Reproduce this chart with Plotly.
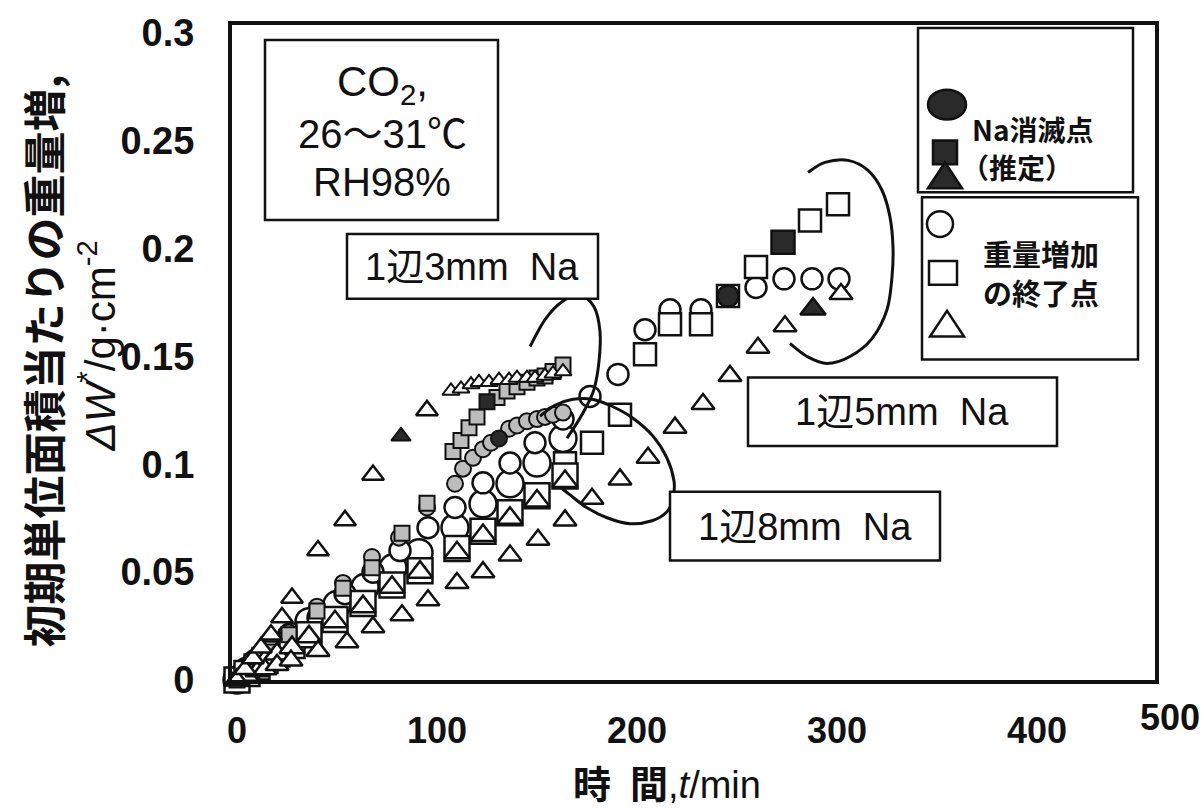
import plotly.graph_objects as go

# ---------------- data: time t (min) vs weight gain per initial area (g/cm^2) ----------------
# 1辺3mm Na
t3_circle = [0, 8, 16, 26, 40, 53, 67.5, 81, 95, 109, 113, 118, 123, 127, 136, 140, 145, 150, 154, 158, 163]
w3_circle = [0, 0.007, 0.013, 0.022, 0.034, 0.045, 0.057, 0.066, 0.080, 0.091, 0.098, 0.103, 0.107, 0.110,
             0.1165, 0.118, 0.120, 0.121, 0.122, 0.123, 0.124]
t3_square = [0, 8, 16, 26, 40, 53, 67.5, 82.5, 95, 108, 112, 116, 120, 130, 135, 140, 145, 150, 154, 158, 163]
w3_square = [0, 0.006, 0.013, 0.021, 0.032, 0.0425, 0.052, 0.068, 0.082, 0.106, 0.111, 0.117, 0.122,
             0.131, 0.134, 0.136, 0.138, 0.140, 0.141, 0.143, 0.146]
t3_tri_early = [0, 4, 8, 12, 17, 22.5, 27.5, 40.5, 54, 68, 95]
w3_tri_early = [0, 0.005, 0.010, 0.015, 0.021, 0.029, 0.038, 0.060, 0.074, 0.095, 0.125]
t3_tri_late = [107, 112, 117, 121, 126, 131, 136, 140, 145, 149, 154, 158, 163]
w3_tri_late = [0.134, 0.135, 0.137, 0.138, 0.138, 0.139, 0.139, 0.140, 0.140, 0.140, 0.141, 0.142, 0.143]

# 1辺5mm Na
t5_circle = [0, 7, 14, 27, 40.5, 54, 68, 81.5, 95.5, 109, 123, 136.5, 149, 163, 176.5, 190.5, 204,
             216.5, 232, 259.5, 273.5, 287.5, 301]
w5_circle = [0, 0.005, 0.010, 0.019, 0.029, 0.040, 0.050, 0.060, 0.0706, 0.080, 0.0914, 0.1006, 0.110,
             0.121, 0.1315, 0.1417, 0.1624, 0.1717, 0.1717, 0.182, 0.186, 0.186, 0.186]
t5_square = [0, 164, 177.5, 191.5, 204, 216.5, 232, 245.5, 259.5, 286.5, 300.5]
w5_square = [0, 0.1005, 0.110, 0.123, 0.151, 0.165, 0.165, 0.178, 0.1915, 0.213, 0.2206]
t5_tri = [0, 5, 10, 14, 20, 27, 40.5, 55, 68, 82.5, 95.5, 110, 123, 136.5, 150.5, 164, 177.5, 191.5,
          205.5, 219, 233, 246.5, 260.5, 274, 302]
w5_tri = [0, 0.002, 0.004, 0.005, 0.007, 0.009, 0.0135, 0.0175, 0.0245, 0.030, 0.037, 0.045, 0.050,
          0.0577, 0.065, 0.074, 0.084, 0.093, 0.103, 0.117, 0.128, 0.141, 0.154, 0.164, 0.179]

# 1辺8mm Na
t8_circle = [0, 5, 10, 14, 20, 27, 36, 50, 64, 78, 91, 109, 123, 136.5, 150, 163]
w8_circle = [0, 0.004, 0.008, 0.011, 0.015, 0.020, 0.027, 0.035, 0.043, 0.052, 0.059, 0.0706, 0.0817,
             0.091, 0.1006, 0.112]
t8_square = [0, 5, 10, 14, 20, 27.5, 36, 49, 63, 77.5, 91.5, 110, 123, 136.5, 150, 164]
w8_square = [0, 0.003, 0.006, 0.009, 0.012, 0.016, 0.021, 0.028, 0.0355, 0.044, 0.0507, 0.061, 0.069,
             0.0775, 0.0854, 0.0946]
t8_tri = [0, 5, 10, 14, 20, 27.5, 36, 49, 63, 77.5, 91.5, 110, 123, 136.5, 150, 164]
w8_tri = [0, 0.003, 0.006, 0.009, 0.012, 0.015, 0.020, 0.027, 0.034, 0.043, 0.050, 0.059, 0.067,
          0.075, 0.083, 0.092]

# Na消滅点 (推定): 3mm and 5mm samples
t3_na_circle, w3_na_circle = [131], [0.112]
t3_na_square, w3_na_square = [125], [0.129]
t3_na_tri, w3_na_tri = [82], [0.113]
t5_na_circle, w5_na_circle = [245.5], [0.178]
t5_na_square, w5_na_square = [273], [0.203]
t5_na_tri, w5_na_tri = [288], [0.172]

x_ticks = [0, 100, 200, 300, 400]
y_ticks = [0, 0.05, 0.1, 0.15, 0.2, 0.25, 0.3]
y_tick_text = ["0", "0.05", "0.1", "0.15", "0.2", "0.25", "0.3"]

# ---------------- layout geometry (pixels) ----------------
FIG_W, FIG_H = 1204, 811
L, R, T, B = 232, 1155, 22, 680
PW, PH = R - L, B - T


def px(x):
    return (x - L) / PW


def py(y):
    return (B - y) / PH


BLACK = "#111111"
GRAY = "#bdbdbd"
DARK = "#2a2a2a"
JP = "Noto Sans CJK JP"
SANS = "Liberation Sans, Arial, " + JP

fig = go.Figure()


def add_points(t, w, symbol, size, fill, lw=2.5):
    fig.add_trace(go.Scatter(
        x=t, y=w, mode="markers", cliponaxis=False, hoverinfo="skip",
        marker=dict(symbol=symbol, size=size, color=fill,
                    line=dict(color=BLACK, width=lw)),
    ))


# back-to-front: circles, squares, triangles, then the Na-depletion points
add_points(t8_circle, w8_circle, "circle", 27, "white")
add_points(t5_circle, w5_circle, "circle", 21, "white")
add_points(t3_circle, w3_circle, "circle", 16, GRAY, 2)
add_points(t5_square, w5_square, "square", 22, "white")
add_points(t8_square, w8_square, "square", 25, "white")
add_points(t3_square, w3_square, "square", 15, GRAY, 2)
add_points(t8_tri, w8_tri, "triangle-up", 22, "white")
add_points(t5_tri, w5_tri, "triangle-up", 20, "white")
add_points(t3_tri_early, w3_tri_early, "triangle-up", 19, "white")
add_points(t3_tri_late, w3_tri_late, "triangle-up", 15, "white", 2)
add_points(t3_na_circle, w3_na_circle, "circle", 16, DARK, 2)
add_points(t3_na_square, w3_na_square, "square", 15, DARK, 2)
add_points(t3_na_tri, w3_na_tri, "triangle-up", 17, DARK, 2)
add_points(t5_na_circle, w5_na_circle, "circle", 21, DARK)
add_points(t5_na_square, w5_na_square, "square", 23, DARK)
add_points(t5_na_tri, w5_na_tri, "triangle-up", 22, DARK)

# ---------------- shapes: text frames, legend glyphs, hand-drawn loops ----------------
shapes = []


def box(x0, y0, x1, y1, lw=2.5):
    shapes.append(dict(type="rect", xref="paper", yref="paper",
                       x0=px(x0), x1=px(x1), y0=py(y1), y1=py(y0),
                       line=dict(color=BLACK, width=lw), fillcolor="white", layer="above"))


def ellipse(cx, cy, rx, ry, fill):
    shapes.append(dict(type="circle", xref="paper", yref="paper",
                       x0=px(cx - rx), x1=px(cx + rx), y0=py(cy + ry), y1=py(cy - ry),
                       line=dict(color=BLACK, width=2.5), fillcolor=fill, layer="above"))


def square(cx, cy, hw, hh, fill):
    shapes.append(dict(type="rect", xref="paper", yref="paper",
                       x0=px(cx - hw), x1=px(cx + hw), y0=py(cy + hh), y1=py(cy - hh),
                       line=dict(color=BLACK, width=2.5), fillcolor=fill, layer="above"))


def triangle(cx, cy, hw, hh, fill):
    pts = [(cx - hw, cy + hh), (cx + hw, cy + hh), (cx, cy - hh)]
    d = "M" + " L".join(f"{px(a):.5f},{py(b):.5f}" for a, b in pts) + " Z"
    shapes.append(dict(type="path", xref="paper", yref="paper", path=d,
                       line=dict(color=BLACK, width=2.5), fillcolor=fill, layer="above"))


def loop(pts, lw=3):
    P = [(px(a), py(b)) for a, b in pts]
    d = f"M{P[0][0]:.5f},{P[0][1]:.5f}"
    for i in range(len(P) - 1):
        p0 = P[i - 1] if i > 0 else P[i]
        p1, p2 = P[i], P[i + 1]
        p3 = P[i + 2] if i + 2 < len(P) else P[i + 1]
        c1 = (p1[0] + (p2[0] - p0[0]) / 6, p1[1] + (p2[1] - p0[1]) / 6)
        c2 = (p2[0] - (p3[0] - p1[0]) / 6, p2[1] - (p3[1] - p1[1]) / 6)
        d += f" C{c1[0]:.5f},{c1[1]:.5f} {c2[0]:.5f},{c2[1]:.5f} {p2[0]:.5f},{p2[1]:.5f}"
    shapes.append(dict(type="path", xref="paper", yref="paper", path=d,
                       line=dict(color=BLACK, width=lw), layer="above"))


# loops grouping each sample size
loop([(530, 345), (545, 318), (562, 300), (580, 294), (594, 305), (600, 330), (599, 360),
      (594, 388), (585, 408), (575, 425), (567, 437)])
loop([(540, 415), (555, 404), (573, 398), (592, 398), (612, 405), (633, 417), (653, 435),
      (667, 457), (674, 480), (673, 497), (667, 511), (652, 520), (630, 523), (607, 517),
      (587, 507), (570, 494), (560, 486)])
loop([(808, 170), (825, 160), (848, 158), (868, 168), (882, 188), (890, 215), (893, 245),
      (892, 275), (887, 308), (872, 337), (850, 355), (827, 362), (807, 355), (790, 342)])

# text frames
box(265, 37, 498, 218)
box(347, 232, 598, 297)
box(748, 376, 1057, 445)
box(670, 491, 940, 560)
box(918, 25, 1133, 190)
box(922, 195, 1138, 358)

# legend glyphs
ellipse(947, 102, 19, 15, DARK)
square(945, 150, 12, 12, DARK)
triangle(945, 173, 17, 13, DARK)
ellipse(940, 222, 13, 13, "white")
square(943, 271, 14, 12, "white")
triangle(947, 322, 17, 13, "white")

# ---------------- annotations ----------------
ann = []


def text(x, y, s, size, family=SANS, weight="normal", angle=0, xanchor="center"):
    ann.append(dict(xref="paper", yref="paper", x=px(x), y=py(y), text=s, showarrow=False,
                    xanchor=xanchor, yanchor="middle", textangle=angle,
                    font=dict(family=family, size=size, color=BLACK, weight=weight)))


text(382, 82, "CO<sub>2</sub>,", 42)
text(382, 131, "26～31℃", 40)
text(382, 180, "RH98%", 40)
text(472, 265, "1辺3mm  Na", 38)
text(902, 411, "1辺5mm  Na", 38)
text(805, 526, "1辺8mm  Na", 38)
text(1033, 126, "Na消滅点", 28, JP, "bold")
text(1017, 165, "（推定）", 28, JP, "bold")
text(1041, 251, "重量増加", 29, JP, "bold")
text(1041, 290, "の終了点", 29, JP, "bold")

# axis titles
text(42, 360, "初期単位面積当たりの重量増,", 43, JP, "bold", -90)
text(97, 345, "<i>ΔW</i><sup>*</sup>/g·cm<sup>-2</sup>", 42, SANS, "normal", -90)
text(667, 785, "<b>時\u2002間</b>,<i>t</i>/min", 38, SANS, "normal")
# last time label at the right end of the axis
text(1202, 718, "500", 36, SANS, "bold", xanchor="right")

axis_common = dict(showline=True, mirror=True, linewidth=4, linecolor=BLACK, showgrid=False,
                   zeroline=False, ticks="")

fig.update_layout(
    width=FIG_W, height=FIG_H,
    margin=dict(l=L, r=FIG_W - R, t=T, b=FIG_H - B, pad=0),
    paper_bgcolor="white", plot_bgcolor="white", showlegend=False,
    xaxis=dict(range=[-2.5, 459], tickvals=x_ticks, ticktext=[str(v) for v in x_ticks],
               tickfont=dict(family=SANS, size=36, color=BLACK, weight="bold"),
               ticklabelstandoff=16, **axis_common),
    yaxis=dict(range=[0, 0.3037], tickvals=y_ticks, ticktext=y_tick_text,
               tickfont=dict(family=SANS, size=38, color=BLACK, weight="bold"),
               ticklabelstandoff=26, **axis_common),
    shapes=shapes, annotations=ann,
)

fig.write_html("out.html")
